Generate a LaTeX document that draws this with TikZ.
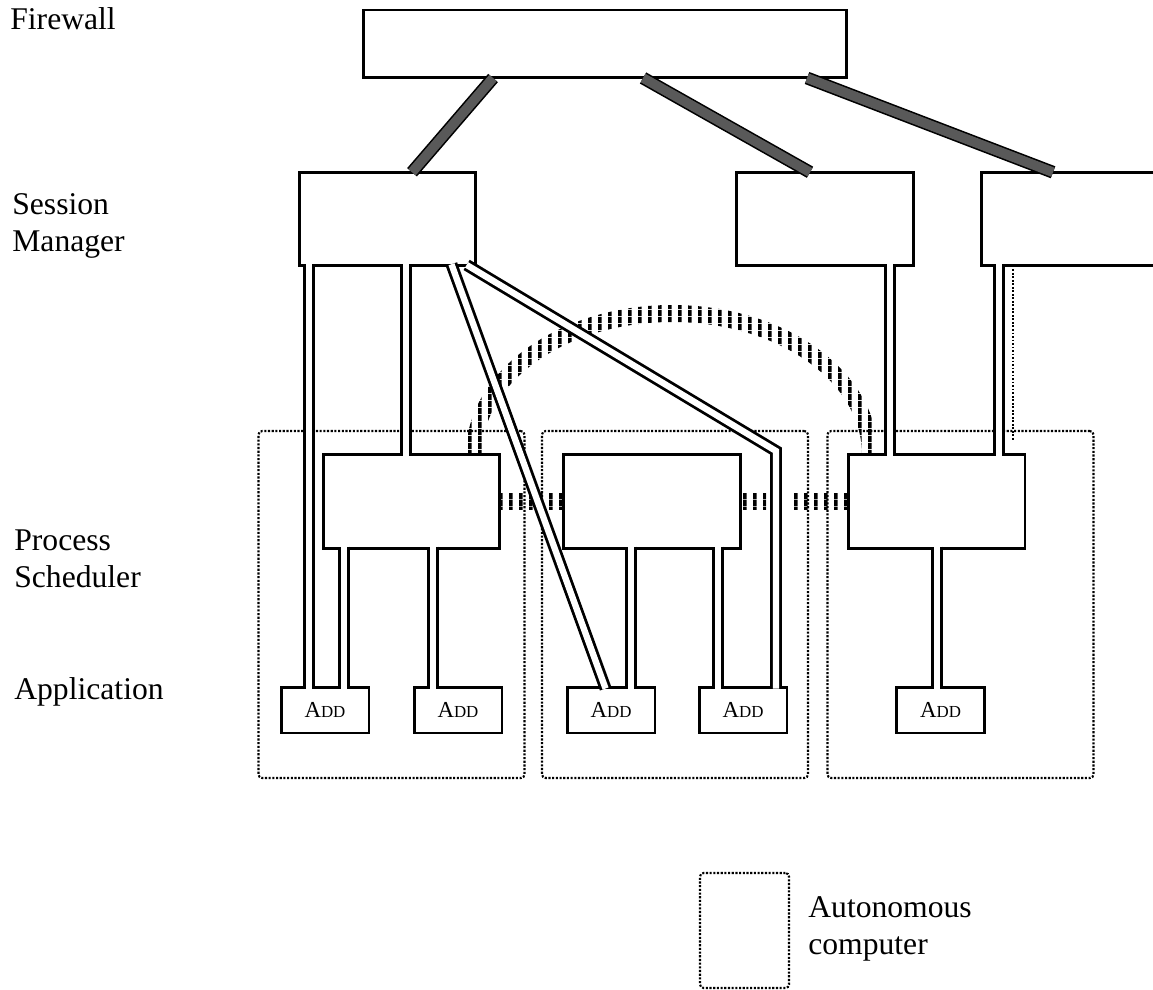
\documentclass[tikz,border=0pt]{standalone}
\usepackage{fontspec}
\setmainfont{Liberation Serif}
\usetikzlibrary{calc, patterns}
\pgfdeclarepatternformonly{vbars}{\pgfqpoint{0pt}{0pt}}{\pgfqpoint{5.8pt}{4pt}}{\pgfqpoint{5.8pt}{4pt}}%
  {\pgfpathrectangle{\pgfqpoint{0pt}{0pt}}{\pgfqpoint{2.2pt}{4pt}}\pgfusepath{fill}}
\newcommand{\addtext}{A{\fontsize{9.6}{10}\selectfont DD}}

\begin{document}
\begin{tikzpicture}[x=0.02cm, y=-0.02cm,
  tierbox/.style={draw, line width=1.7pt, minimum width=3.54cm, minimum height=1.87cm, inner sep=0pt, outer sep=0pt},
  appbox/.style={draw, line width=1.7pt, minimum width=1.76cm, minimum height=0.92cm, inner sep=0pt, outer sep=0pt, font=\fontsize{13}{14}\selectfont},
  hostbox/.style={draw, line width=1.2pt, dash pattern=on 1.2pt off 0.9pt, rounded corners=2pt, minimum width=5.32cm, minimum height=6.94cm, inner sep=0pt, outer sep=0pt},
  tierlabel/.style={anchor=west, align=left, inner sep=0pt, font=\fontsize{18}{21}\selectfont},
  link/.style={draw, line width=1.6pt, double=white, double distance=3.6pt, line join=miter, shorten <=-0.9pt, shorten >=-0.9pt},
  fwlink/.style={draw, line width=0.9pt, double=black!65, double distance=5.5pt},
  hatchband/.style={pattern=vbars}
]
\clip (0,0) rectangle (1153,990);

% tier labels
\node[tierlabel] (lfw) at (10,19) {Firewall};
\node[tierlabel] (lsm) at (12,226) {Session\\Manager};
\node[tierlabel] (lps) at (14,559) {Process\\Scheduler};
\node[tierlabel] (lapp) at (14,692) {Application};

% autonomous computers
\node[hostbox] (pc1) at (391.5,604.5) {};
\node[hostbox] (pc2) at (675,604.5) {};
\node[hostbox] (pc3) at (960.5,604.5) {};

% firewall and session managers
\node[tierbox, minimum width=9.68cm, minimum height=1.36cm] (fw) at (605,44) {};
\node[tierbox] (sm1) at (387.5,219) {};
\node[tierbox] (sm2) at (825,219) {};
\node[tierbox] (sm3) at (1069.5,219) {};

% process schedulers
\node[tierbox] (ps1) at (411.5,501.5) {};
\node[tierbox] (ps2) at (652,501.5) {};
\node[tierbox] (ps3) at (936.5,501.5) {};

% applications
\node[appbox] (app1) at (325,710) {\addtext};
\node[appbox] (app2) at (458,710) {\addtext};
\node[appbox] (app3) at (611,710) {\addtext};
\node[appbox] (app4) at (743,710) {\addtext};
\node[appbox] (app5) at (940.5,710) {\addtext};

% legend
\node[hostbox, minimum width=1.78cm, minimum height=2.3cm] (key) at (744.5,930.5) {};
\node[tierlabel] (keytext) at (808,929) {Autonomous\\computer};

% scheduler to scheduler
\path[hatchband] ($(ps1.north east)+(-34,0)$)
  .. controls +(0,-83) and +(-114,0) .. (672,305) coordinate (top)
  .. controls +(114,0) and +(0,-83) .. ($(ps3.north west)+(30,0)$)
  -- ++(-16,0)
  .. controls +(0,-74) and +(105,0) .. ($(top)+(0,17)$)
  .. controls +(-105,0) and +(0,-74) .. ($(ps1.north east)+(-18,0)$) -- cycle;
\path[hatchband] ($(ps1.east)+(0,-8)$) rectangle ($(ps2.west)+(0,8)$);
\path[hatchband] ($(ps2.east)+(0,-8)$) rectangle (766,509);
\path[hatchband] (790,493) rectangle ($(ps3.west)+(0,8)$);

% firewall links
\draw[fwlink] ($(fw.south west)+(130,0)$) -- ($(sm1.north west)+(113,0)$);
\draw[fwlink] ($(fw.south west)+(280,0)$) -- ($(sm2.north west)+(73.5,0)$);
\draw[fwlink] ($(fw.south west)+(444,0)$) -- ($(sm3.north west)+(72,0)$);

% session manager links
\draw[link] (sm1.south west) ++(10,0) coordinate (s1) -- (s1 |- app1.north);
\draw[link] (sm1.south west) ++(107,0) coordinate (s2) -- (s2 |- ps1.north);
\draw[link] (sm1.south west) ++(153,0) -- ($(app3.north west)+(38,0)$);
\coordinate (bend) at (776,451);
\draw[link] (sm1.south east) ++(-8,0) -- (bend) -- (bend |- app4.north);
\draw[link] (sm2.south west) ++(153.5,0) coordinate (s3) -- (s3 |- ps3.north);
\draw[link] (sm3.south west) ++(18,0) coordinate (s4) -- (s4 |- ps3.north);
\draw[line width=0.8pt, dash pattern=on 1pt off 1pt] (sm3.south west) ++(32,0) coordinate (d) -- ($(d |- pc3.north)+(0,9)$);

% scheduler links
\draw[link] (ps1.south west) ++(21,0) coordinate (p1) -- (p1 |- app1.north);
\draw[link] (ps1.south west) ++(110,0) coordinate (p2) -- (p2 |- app2.north);
\draw[link] (ps2.south west) ++(67.5,0) coordinate (p3) -- (p3 |- app3.north);
\draw[link] (ps2.south west) ++(154.5,0) coordinate (p4) -- (p4 |- app4.north);
\draw[link] (ps3.south west) ++(89,0) coordinate (p5) -- (p5 |- app5.north);
\end{tikzpicture}
\end{document}
